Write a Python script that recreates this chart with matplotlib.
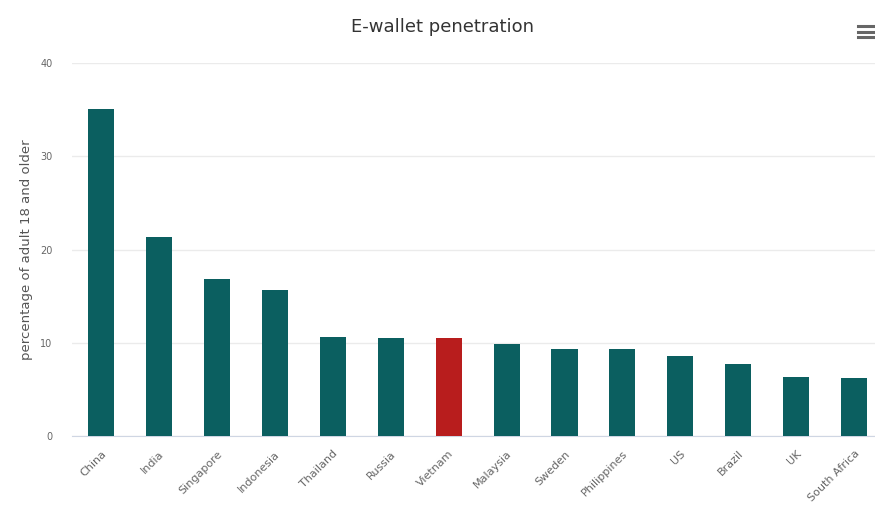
import numpy as np
import matplotlib.pyplot as plt
from matplotlib.lines import Line2D

# E-wallet penetration by country (% of adults 18+)
countries = ['China', 'India', 'Singapore', 'Indonesia', 'Thailand', 'Russia', 'Vietnam',
             'Malaysia', 'Sweden', 'Philippines', 'US', 'Brazil', 'UK', 'South Africa']
values = [35.1, 21.4, 16.9, 15.7, 10.6, 10.5, 10.5, 9.9, 9.3, 9.3, 8.6, 7.7, 6.4, 6.25]
highlight = 'Vietnam'

teal = '#0b5f60'
red = '#b81d1d'
colors = [red if c == highlight else teal for c in countries]

fig = plt.figure(figsize=(8.75, 5.12), dpi=100)
ax = fig.add_axes([0.0823, 0.148, 0.927, 0.729])

x = np.arange(len(countries))
ax.bar(x, values, width=0.45, color=colors, zorder=3)

ax.set_xlim(-0.5, len(countries) - 0.5)
ax.set_ylim(0, 40)
ax.set_yticks([0, 10, 20, 30, 40])
ax.yaxis.grid(True, color='#ebebeb', linewidth=1, zorder=0)
ax.tick_params(axis='y', length=0, labelsize=7, labelcolor='#666666', pad=14)
ax.set_xticks(x)
ax.set_xticklabels(countries, rotation=45, ha='right', rotation_mode='anchor',
                   fontsize=8, color='#666666')
ax.tick_params(axis='x', length=0, pad=9)

for side in ['top', 'right', 'left']:
    ax.spines[side].set_visible(False)
ax.spines['bottom'].set_color('#cfd6e3')

ax.set_ylabel('percentage of adult 18 and older', fontsize=9.5, color='#555555', labelpad=5)

fig.text(0.506, 0.947, 'E-wallet penetration', ha='center', va='center',
         fontsize=13, color='#333333')

# menu icon (three bars) in the top right corner, partly cut like the screenshot
for yy in [26, 31.5, 37]:
    fig.add_artist(Line2D([858 / 875, 1.0], [1 - yy / 512] * 2,
                          transform=fig.transFigure, color='#666666', linewidth=2.2))

plt.savefig('out.png', dpi=100)
